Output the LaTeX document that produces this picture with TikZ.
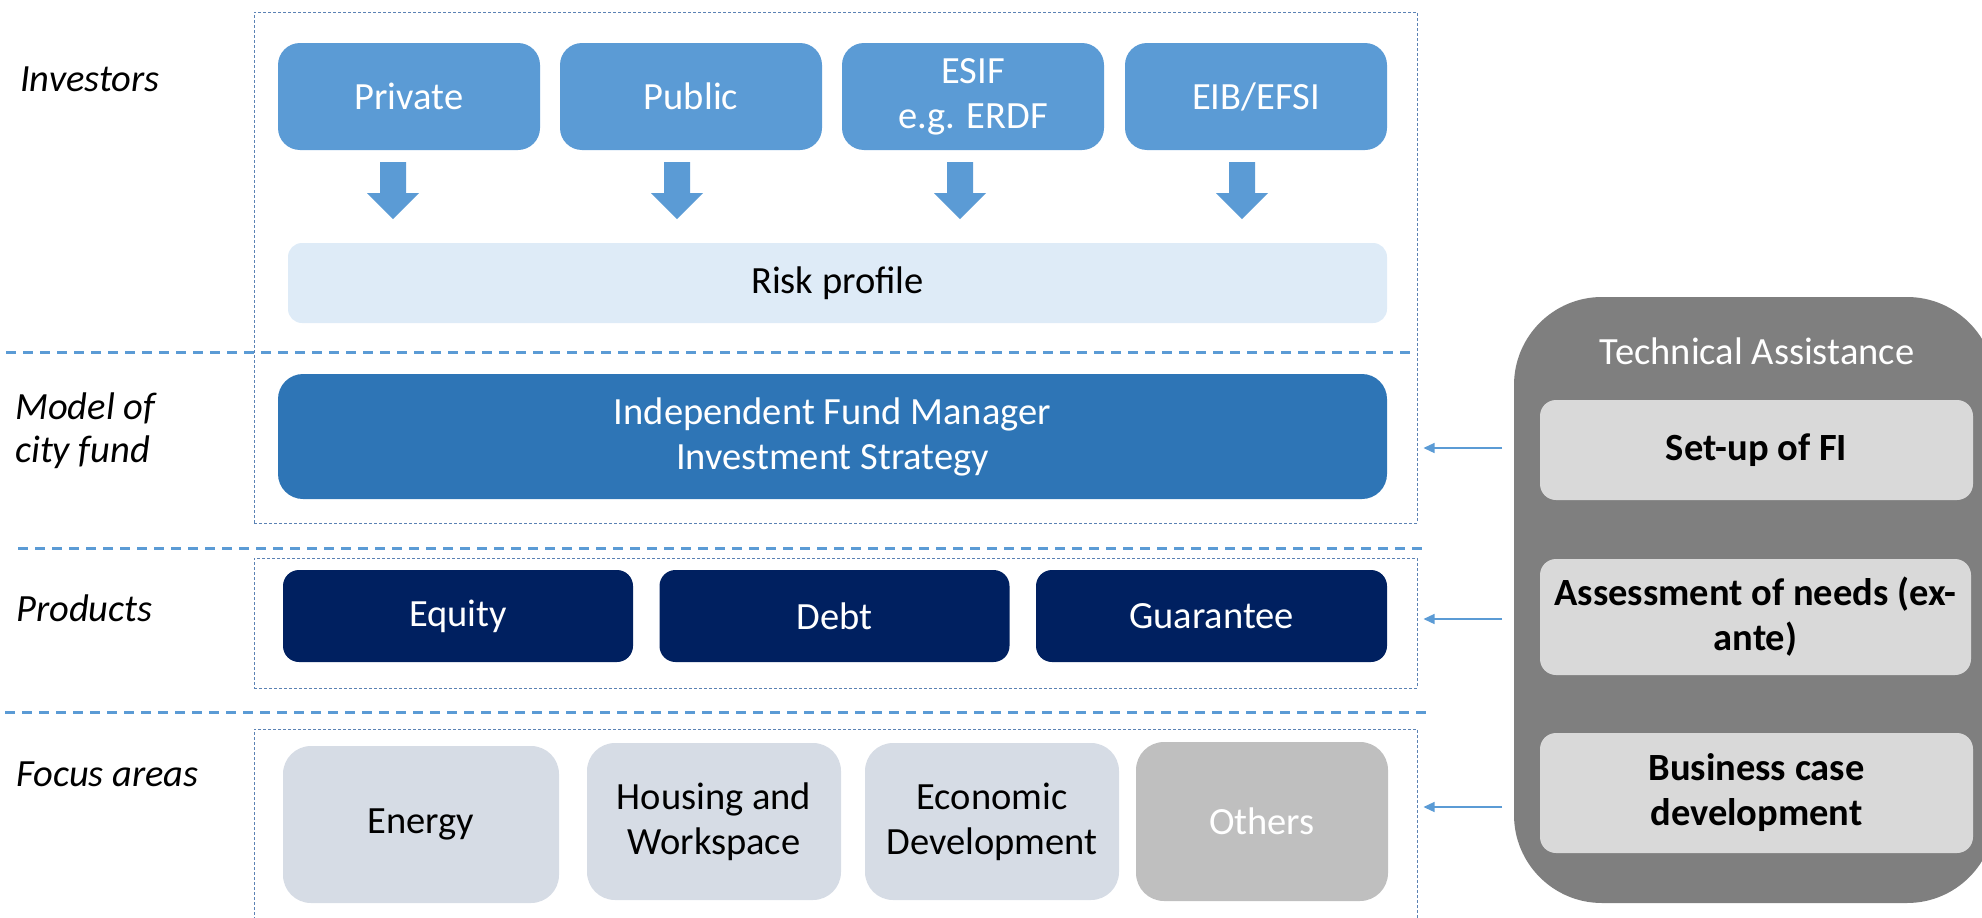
\documentclass[tikz,border=0pt]{standalone}
\usepackage{fontspec}
\setmainfont{Carlito}
\usetikzlibrary{arrows.meta}
\definecolor{invblue}{HTML}{5B9BD5}
\definecolor{riskblue}{HTML}{DEEBF7}
\definecolor{fundblue}{HTML}{2E75B6}
\definecolor{navyblue}{HTML}{002060}
\definecolor{focusgrey}{HTML}{D6DCE5}
\definecolor{othersgrey}{HTML}{BFBFBF}
\definecolor{tagrey}{HTML}{7F7F7F}
\definecolor{itemgrey}{HTML}{D9D9D9}
\definecolor{framecol}{HTML}{5B82B4}
\begin{document}
\begin{tikzpicture}[x=1pt,y=-1pt,
  every node/.style={font=\fontsize{38.5}{45}\selectfont, inner sep=0pt, align=center},
  sz/.style 2 args={minimum width=#1pt, minimum height=#2pt},
  frame/.style={draw=framecol, line width=1pt, dash pattern=on 3pt off 2pt},
  invbox/.style={fill=invblue, text=white, rounded corners=22pt},
  riskbox/.style={fill=riskblue, text=black, rounded corners=14pt},
  fundbox/.style={fill=fundblue, text=white, rounded corners=25pt},
  prodbox/.style={fill=navyblue, text=white, rounded corners=16pt},
  focusbox/.style={fill=focusgrey, text=black, rounded corners=28pt},
  otherbox/.style={fill=othersgrey, text=white, rounded corners=28pt},
  tabox/.style={fill=tagrey, rounded corners=88pt},
  itembox/.style={fill=itemgrey, text=black, rounded corners=16pt, font=\fontsize{38.5}{45}\selectfont\bfseries},
  sidelabel/.style={font=\fontsize{38.5}{43}\selectfont\itshape, align=left},
  sepline/.style={draw=invblue, line width=3pt, dash pattern=on 10pt off 7pt},
  tharrow/.style={draw=invblue, line width=1.3pt, -{Triangle[length=11pt,width=10pt]}},
  downarrow/.pic={\fill[invblue] (-13,0) -- (-13,31) -- (-26,31) -- (0,57) -- (26,31) -- (13,31) -- (13,0) -- cycle;}
]
\useasboundingbox (0,0) rectangle (1982,918);
\clip (0,0) rectangle (1982,918);

% dotted frames
\node[frame, sz={1163}{511}] (frameA) at (835.5,267.5) {};
\node[frame, sz={1163}{130}] (frameB) at (835.5,623) {};
\node[frame, sz={1163}{201}] (frameC) at (835.5,829.5) {};

% separators
\draw[sepline] (6,352) -- (1410,352);
\draw[sepline] (18,548) -- (1427,548);
\draw[sepline] (5,712) -- (1433,712);

% side labels
\node[sidelabel, anchor=base west] (lInv) at (20,91) {Investors};
\node[sidelabel, anchor=west] (lModel) at (15,431) {Model of\\city fund};
\node[sidelabel, anchor=base west] (lProd) at (16,621) {Products};
\node[sidelabel, anchor=base west] (lFocus) at (16,786) {Focus areas};

% investors
\node[invbox, sz={262}{107}] (private) at (409,96.5) {Private};
\node[invbox, sz={262}{107}] (public) at (691,96.5) {Public};
\node[invbox, sz={262}{107}] (esif) at (973,96.5) {ESIF\\e.g. ERDF};
\node[invbox, sz={262}{107}] (eib) at (1256,96.5) {EIB/EFSI};

\node[riskbox, sz={1099}{80}] (risk) at (837.5,283) {Risk profile};

\pic at ([xshift=-16pt,yshift=-12pt]private.south) {downarrow};
\pic at ([xshift=-14pt,yshift=-12pt]public.south) {downarrow};
\pic at ([xshift=-13pt,yshift=-12pt]esif.south) {downarrow};
\pic at ([xshift=-14pt,yshift=-12pt]eib.south) {downarrow};

% fund
\node[fundbox, sz={1109}{125}] (fund) at (832.5,436.5) {Independent Fund Manager\\Investment Strategy};

% products
\node[prodbox, sz={350}{92}] (equity) at (458,616) {Equity};
\node[prodbox, sz={350}{92}] (debt) at (834.5,616) {Debt};
\node[prodbox, sz={351}{92}] (guarantee) at (1211.5,616) {Guarantee};

% focus areas
\node[focusbox, sz={276}{157}] (energy) at (421,824.5) {Energy};
\node[focusbox, sz={254}{157}] (housing) at (714,821.5) {Housing and\\Workspace};
\node[focusbox, sz={254}{157}] (economic) at (992,821.5) {Economic\\Development};
\node[otherbox, sz={252}{159}] (others) at (1262,821.5) {Others};

% technical assistance
\node[tabox, sz={481}{606}] (ta) at (1754.5,600) {};
\node[text=white] (tatitle) at (1757,351) {Technical Assistance};
\node[itembox, sz={433}{100}] (setup) at (1756.5,450) {Set-up of FI};
\node[itembox, sz={431}{116}] (assess) at (1755.5,617) {Assessment of needs (ex-\\ante)};
\node[itembox, sz={433}{120}] (business) at (1756.5,793) {Business case\\development};

% thin arrows
\coordinate (t1) at (1502,448);
\coordinate (t2) at (1502,619);
\coordinate (t3) at (1502,807);
\draw[tharrow, shorten >=6pt] (t1) -- (t1 -| frameA.east);
\draw[tharrow, shorten >=6pt] (t2) -- (t2 -| frameB.east);
\draw[tharrow, shorten >=6pt] (t3) -- (t3 -| frameC.east);
\end{tikzpicture}
\end{document}
